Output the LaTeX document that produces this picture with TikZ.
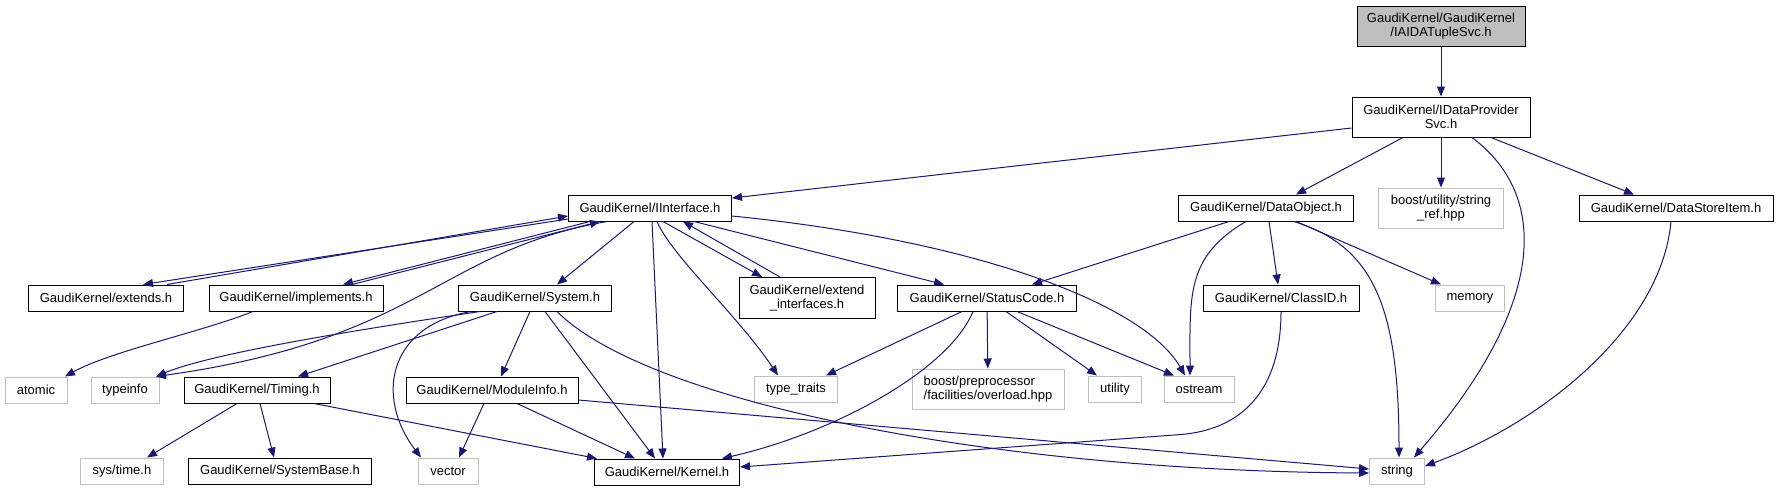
\documentclass[tikz,border=0pt]{standalone}
\usepackage{fontspec}
\setmainfont{Liberation Sans}
\usepackage{tikz}
\usetikzlibrary{arrows.meta}
\usepackage{xcolor}
\definecolor{EdgeBlue}{HTML}{191970}
\definecolor{ExtGray}{HTML}{BFBFBF}
\tikzset{
  hdr/.style={draw=black,line width=1pt,fill=white,minimum height=26pt,inner sep=2pt,
    align=center,font=\fontsize{13}{14}\selectfont},
  syshdr/.style={hdr,draw=ExtGray},
  dep/.style={draw=EdgeBlue,line width=1pt,-{Triangle[length=10pt,width=8pt]}}
}

\begin{document}
\begin{tikzpicture}[x=1pt,y=-1pt]
  \useasboundingbox (0,0) rectangle (1777,491);

  \node[hdr,fill=ExtGray,minimum width=168pt,minimum height=40pt] (top) at (1441,26) {GaudiKernel/GaudiKernel\\/IAIDATupleSvc.h};
  \node[hdr,minimum width=178pt,minimum height=40pt] (dps) at (1441,117) {GaudiKernel/IDataProvider\\Svc.h};
  \node[hdr,minimum width=163pt] (iface) at (650,208) {GaudiKernel/IInterface.h};
  \node[hdr,minimum width=175pt] (dobj) at (1266,208) {GaudiKernel/DataObject.h};
  \node[syshdr,minimum width=125pt,minimum height=40pt] (sref) at (1441,208) {boost/utility/string\\\_ref.hpp};
  \node[hdr,minimum width=194pt] (dsi) at (1676,208) {GaudiKernel/DataStoreItem.h};
  \node[hdr,minimum width=155pt] (ext) at (106,298) {GaudiKernel/extends.h};
  \node[hdr,minimum width=174pt] (impl) at (296,298) {GaudiKernel/implements.h};
  \node[hdr,minimum width=153pt] (sys) at (535,298) {GaudiKernel/System.h};
  \node[hdr,minimum width=136pt,minimum height=41pt] (extif) at (807,298) {GaudiKernel/extend\\\_interfaces.h};
  \node[hdr,minimum width=179pt] (stc) at (987,298) {GaudiKernel/StatusCode.h};
  \node[hdr,minimum width=156pt] (clid) at (1281,298) {GaudiKernel/ClassID.h};
  \node[syshdr,minimum width=69pt] (mem) at (1470,298) {memory};
  \node[syshdr,minimum width=62pt] (atomic) at (36,390) {atomic};
  \node[syshdr,minimum width=68pt] (tinfo) at (125,390) {typeinfo};
  \node[hdr,minimum width=146pt] (timing) at (257,390) {GaudiKernel/Timing.h};
  \node[hdr,minimum width=172pt] (modinfo) at (492,390) {GaudiKernel/ModuleInfo.h};
  \node[syshdr,minimum width=83pt] (ttraits) at (796,389) {type\_traits};
  \node[syshdr,minimum width=152pt,minimum height=40pt,align=left] (bpp) at (988,389) {boost/preprocessor\\/facilities/overload.hpp};
  \node[syshdr,minimum width=53pt] (util) at (1115,389) {utility};
  \node[syshdr,minimum width=70pt] (ostr) at (1199,389) {ostream};
  \node[syshdr,minimum width=83pt] (systime) at (122,471) {sys/time.h};
  \node[hdr,minimum width=183pt] (sysbase) at (280,471) {GaudiKernel/SystemBase.h};
  \node[syshdr,minimum width=60pt] (vec) at (448,471) {vector};
  \node[hdr,minimum width=145pt] (kern) at (667,472) {GaudiKernel/Kernel.h};
  \node[syshdr,minimum width=55pt] (str) at (1397,471) {string};

  \draw[dep] (top) -- (dps);
  \draw[dep] ([yshift=-11pt]dps.west) -- ([yshift=10pt]iface.east);
  \draw[dep] ([xshift=-38pt]dps.south) -- ([xshift=30pt]dobj.north);
  \draw[dep] (dps) -- (sref);
  \draw[dep] ([xshift=31pt]dps.south) .. controls +(80,60) and +(130,-150) .. ([xshift=17pt]str.north);
  \draw[dep] ([xshift=50pt]dps.south) -- ([xshift=-42pt]dsi.north);

  \draw[dep] ([yshift=-11pt]iface.west) -- ([xshift=37pt]ext.north);
  \draw[dep] ([xshift=61pt]ext.north) -- ([yshift=-8pt]iface.west);
  \draw[dep] ([xshift=-60pt]iface.south) -- ([xshift=47pt]impl.north);
  \draw[dep] ([xshift=56pt]impl.north) -- ([xshift=-50pt]iface.south);
  \draw[dep] ([xshift=-43pt]iface.south) .. controls +(-167,29) and +(265,-37) .. ([xshift=31pt]tinfo.north);
  \draw[dep] ([xshift=-16pt]iface.south) -- ([xshift=22pt]sys.north);
  \draw[dep] ([xshift=2pt]iface.south) -- ([xshift=-4pt]kern.north);
  \draw[dep] ([xshift=7pt]iface.south) .. controls +(15,35) and +(-40,-60) .. ([xshift=-18pt]ttraits.north);
  \draw[dep] ([xshift=13pt]iface.south) -- ([xshift=-45pt]extif.north);
  \draw[dep] ([xshift=-27pt]extif.north) -- ([xshift=33pt]iface.south);
  \draw[dep] ([xshift=44pt]iface.south) -- ([xshift=-43pt]stc.north);
  \draw[dep] ([yshift=-8pt]iface.east) .. controls +(250,25) and +(-40,-70) .. ([xshift=-14pt]ostr.north);
  \draw[dep] ([xshift=-43pt]impl.south) .. controls +(-50,20) and +(45,-25) .. ([xshift=29pt]atomic.north);

  \draw[dep] ([xshift=-55pt]sys.south) .. controls +(-100,15) and +(60,-25) .. ([xshift=31pt]tinfo.north);
  \draw[dep] ([xshift=-38pt]sys.south) -- ([xshift=41pt]timing.north);
  \draw[dep] ([xshift=-64pt]sys.south) .. controls +(-85,15) and +(-45,-59) .. ([xshift=-27pt]vec.north);
  \draw[dep] ([xshift=-5pt]sys.south) -- ([xshift=9pt]modinfo.north);
  \draw[dep] ([xshift=10pt]sys.south) -- ([xshift=-12pt]kern.north);
  \draw[dep] ([xshift=22pt]sys.south) .. controls +(90,90) and +(-380,-2) .. ([yshift=-2pt]str.west);

  \draw[dep] ([xshift=-20pt]timing.south) -- ([xshift=25pt]systime.north);
  \draw[dep] ([xshift=3pt]timing.south) -- ([xshift=-6pt]sysbase.north);
  \draw[dep] ([xshift=57pt]timing.south) -- ([xshift=-70pt]kern.north);
  \draw[dep] ([xshift=-8pt]modinfo.south) -- ([xshift=11pt]vec.north);
  \draw[dep] ([xshift=25pt]modinfo.south) -- ([xshift=-32pt]kern.north);
  \draw[dep] ([yshift=-10pt]modinfo.east) -- ([yshift=2pt]str.west);

  \draw[dep] ([xshift=-25pt]stc.south) -- ([xshift=30pt]ttraits.north);
  \draw[dep] ([xshift=-14pt]stc.south) .. controls +(-25,60) and +(110,-25) .. ([xshift=55pt]kern.north);
  \draw[dep] (stc) -- (bpp);
  \draw[dep] ([xshift=19pt]stc.south) -- ([xshift=-18pt]util.north);
  \draw[dep] ([xshift=30pt]stc.south) -- ([xshift=-25pt]ostr.north);

  \draw[dep] ([xshift=-37pt]dobj.south) -- ([xshift=45pt]stc.north);
  \draw[dep] ([xshift=-20pt]dobj.south) .. controls +(-60,35) and +(0,-80) .. ([xshift=-9pt]ostr.north);
  \draw[dep] ([xshift=3pt]dobj.south) -- ([xshift=-3pt]clid.north);
  \draw[dep] ([xshift=28pt]dobj.south) .. controls +(80,25) and +(0,-150) .. ([xshift=2pt]str.north);
  \draw[dep] ([xshift=30pt]dobj.south) -- ([xshift=-29pt]mem.north);
  \draw[dep] (clid.south) .. controls +(0,80) and +(60,-5) .. ([xshift=-100pt,yshift=-123pt]clid.south) -- ([yshift=5pt]kern.east);
  \draw[dep] ([xshift=-5pt]dsi.south) .. controls +(-10,110) and +(110,-40) .. ([yshift=5pt]str.east);
\end{tikzpicture}
\end{document}
